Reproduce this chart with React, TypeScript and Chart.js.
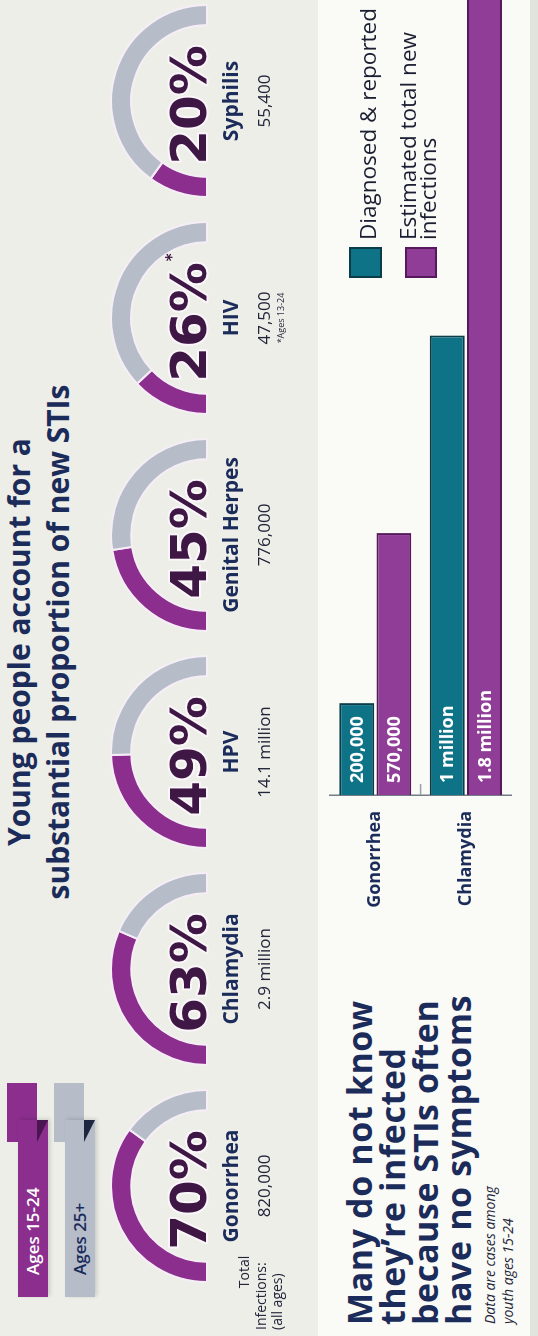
import React, { useEffect, useRef } from "react";
import { Chart, registerables } from "chart.js";

Chart.register(...registerables);

// ---------------- data ----------------
const stiNames = ["Gonorrhea", "Chlamydia", "HPV", "Genital Herpes", "HIV", "Syphilis"];
const youthShare = [70, 63, 49, 45, 26, 20];
const olderShare = [30, 37, 51, 55, 74, 80];
const totalInfections = ["820,000", "2.9 million", "14.1 million", "776,000", "47,500", "55,400"];
const gaugeNotes = ["", "", "", "", "*Ages 13-24", ""];
const percentMarks = ["", "", "", "", "*", ""];
const ageGroups = ["Ages 15-24", "Ages 25+"];

const barCategories = ["Gonorrhea", "Chlamydia"];
const diagnosedReported = [200000, 1000000];
const estimatedNew = [570000, 1800000];
const diagnosedLabels = ["200,000", "1 million"];
const estimatedLabels = ["570,000", "1.8 million"];
const seriesNames = ["Diagnosed & reported", "Estimated total new", "infections"];

const titleLines = ["Young people account for a", "substantial proportion of new STIs"];
const subtitleLines = ["Many do not know", "they\u2019re infected", "because STIs often", "have no symptoms"];
const noteLines = ["Data are cases among", "youth ages 15-24"];

// ---------------- style ----------------
const BG = "#eeeee8";
const PANEL = "#fafaf6";
const NAVY = "#1b2b5a";
const PCT = "#3e1744";
const PURPLE = "#8b2e8e";
const GRAY = "#b6bdc9";
const TEAL = "#0e7387";
const TEAL_DARK = "#0b3d49";
const PURPLE_BAR = "#8f3d97";
const PURPLE_DARK = "#55195c";
const SANS = '"Open Sans", "Noto Sans", sans-serif';

const FRAME_W = 1336;
const FRAME_H = 538;
const gaugeCenters = [150, 367, 584, 801, 1018, 1235];

type TProps = {
  x: number;
  y: number;
  size: number;
  weight?: number | string;
  color?: string;
  align?: "left" | "center" | "right";
  italic?: boolean;
  spacing?: number;
  children: React.ReactNode;
};

function T({ x, y, size, weight = 400, color = NAVY, align = "left", italic = false, spacing = 0, children }: TProps) {
  const style: React.CSSProperties = {
    position: "absolute",
    top: y - 0.888 * size,
    fontSize: size,
    lineHeight: `${size}px`,
    fontWeight: weight as any,
    color,
    fontFamily: SANS,
    fontStyle: italic ? "italic" : "normal",
    whiteSpace: "nowrap",
    letterSpacing: spacing,
  };
  if (align === "left") style.left = x;
  else if (align === "center") {
    style.left = x - 600;
    style.width = 1200;
    style.textAlign = "center";
  } else {
    style.left = x - 1200;
    style.width = 1200;
    style.textAlign = "right";
  }
  return <div style={style}>{children}</div>;
}

function Gauge({ index }: { index: number }) {
  const ref = useRef<HTMLCanvasElement>(null);
  useEffect(() => {
    const textPlugin = {
      id: "gaugeText" + index,
      afterDraw(chart: any) {
        const arc = chart.getDatasetMeta(0).data[0] as any;
        const cx = arc.x;
        const cy = arc.y;
        const ctx = chart.ctx as CanvasRenderingContext2D;
        ctx.save();
        ctx.textBaseline = "alphabetic";
        ctx.textAlign = "left";
        ctx.font = 'bold 50px "DejaVu Sans"';
        const txt = `${youthShare[index]}%`;
        const w = ctx.measureText(txt).width;
        const sx = cx - w / 2 - 4;
        ctx.lineJoin = "round";
        ctx.lineWidth = 4;
        ctx.strokeStyle = "rgba(250,246,250,0.95)";
        ctx.strokeText(txt, sx, cy - 1);
        ctx.fillStyle = PCT;
        ctx.fillText(txt, sx, cy - 1);
        if (percentMarks[index]) {
          ctx.font = 'bold 15px "DejaVu Sans"';
          ctx.fillText(percentMarks[index], sx + w + 1, cy - 30);
        }
        ctx.textAlign = "center";
        ctx.fillStyle = NAVY;
        ctx.font = 'bold 21px "Open Sans"';
        ctx.fillText(stiNames[index], cx, cy + 31);
        ctx.fillStyle = "#23253a";
        ctx.font = '17px "Open Sans"';
        ctx.fillText(totalInfections[index], cx, cy + 63);
        if (gaugeNotes[index]) {
          ctx.font = '9px "Open Sans"';
          ctx.fillText(gaugeNotes[index], cx, cy + 77);
        }
        ctx.restore();
      },
    };
    const chart = new Chart(ref.current as HTMLCanvasElement, {
      type: "doughnut",
      data: {
        labels: ageGroups,
        datasets: [
          {
            data: [youthShare[index], olderShare[index]],
            backgroundColor: [PURPLE, GRAY],
            borderColor: "#f6eef6",
            borderWidth: 2,
          },
        ],
      },
      options: {
        responsive: false,
        animation: false,
        rotation: -90,
        circumference: 180,
        cutout: "79%",
        radius: 96,
        layout: { padding: { left: 9, right: 9, top: 4, bottom: 80 } },
        plugins: { legend: { display: false }, tooltip: { enabled: false } },
      } as any,
      plugins: [textPlugin],
    });
    return () => chart.destroy();
  }, [index]);
  return (
    <canvas
      ref={ref}
      width={210}
      height={180}
      style={{ position: "absolute", left: gaugeCenters[index] - 105, top: 107, width: 210, height: 180 }}
    />
  );
}

function Bars() {
  const ref = useRef<HTMLCanvasElement>(null);
  useEffect(() => {
    const labelPlugin = {
      id: "barValueLabels",
      afterDatasetsDraw(chart: any) {
        const ctx = chart.ctx as CanvasRenderingContext2D;
        ctx.save();
        // small separator tick between the two categories
        const ys = chart.scales.y;
        const mid = (ys.getPixelForValue(0) + ys.getPixelForValue(1)) / 2;
        ctx.strokeStyle = "#9aa0a8";
        ctx.lineWidth = 1.5;
        ctx.beginPath();
        ctx.moveTo(chart.chartArea.left, mid);
        ctx.lineTo(chart.chartArea.left + 11, mid);
        ctx.stroke();

        ctx.font = 'bold 18px "Open Sans"';
        ctx.fillStyle = "#ffffff";
        ctx.textBaseline = "middle";
        ctx.textAlign = "left";
        const sets = [diagnosedLabels, estimatedLabels];
        sets.forEach((labels, di) => {
          chart.getDatasetMeta(di).data.forEach((bar: any, i: number) => {
            ctx.fillText(labels[i], bar.base + 12, bar.y + 1);
          });
        });
        ctx.restore();
      },
    };
    const chart = new Chart(ref.current as HTMLCanvasElement, {
      type: "bar",
      data: {
        labels: barCategories,
        datasets: [
          {
            label: seriesNames[0],
            data: diagnosedReported,
            backgroundColor: TEAL,
            borderColor: TEAL_DARK,
            borderWidth: 2,
            borderSkipped: "start",
            categoryPercentage: 0.82,
            barPercentage: 0.94,
          },
          {
            label: seriesNames[1] + " " + seriesNames[2],
            data: estimatedNew,
            backgroundColor: PURPLE_BAR,
            borderColor: PURPLE_DARK,
            borderWidth: 2,
            borderSkipped: "start",
            categoryPercentage: 0.82,
            barPercentage: 0.94,
          },
        ],
      },
      options: {
        indexAxis: "y",
        responsive: false,
        animation: false,
        layout: { padding: { top: 30, bottom: 1, left: 0, right: 0 } },
        scales: {
          x: { display: false, min: 0, max: 1730000 },
          y: {
            afterFit: (s: any) => {
              s.width = 541;
            },
            grid: { display: false, drawTicks: false },
            border: { display: true, color: "#747c88", width: 1.5 },
            ticks: { color: NAVY, font: { family: "Open Sans", weight: "bold", size: 18 }, padding: 16 },
          },
        },
        plugins: { legend: { display: false }, tooltip: { enabled: false } },
      } as any,
      plugins: [labelPlugin],
    });
    return () => chart.destroy();
  }, []);
  return (
    <canvas
      ref={ref}
      width={FRAME_W}
      height={238}
      style={{ position: "absolute", left: 0, top: 300, width: FRAME_W, height: 238 }}
    />
  );
}

function Ribbon({ top, color, fold, text, textColor }: { top: number; color: string; fold: string; text: string; textColor: string }) {
  return (
    <>
      <div style={{ position: "absolute", left: 194, top: top - 11, width: 59, height: 30, background: color }} />
      <div style={{ position: "absolute", left: 39, top, width: 177, height: 30, background: color, boxShadow: "1px 2px 4px rgba(0,0,0,0.15)" }} />
      <div
        style={{
          position: "absolute",
          left: 194,
          top: top + 19,
          width: 22,
          height: 11,
          background: fold,
          clipPath: "polygon(0 0, 100% 0, 100% 100%)",
        }}
      />
      <T x={61} y={top + 21} size={17} color={textColor} weight={600}>
        {text}
      </T>
    </>
  );
}

export default function App() {
  return (
    <div style={{ position: "absolute", left: 0, top: 0, width: 538, height: 1336, overflow: "hidden", background: BG }}>
      <div
        style={{
          position: "absolute",
          left: 0,
          top: 0,
          width: FRAME_W,
          height: FRAME_H,
          transformOrigin: "0 0",
          transform: `translateY(${FRAME_W}px) rotate(-90deg)`,
          background: BG,
          overflow: "hidden",
        }}
      >
        <div style={{ position: "absolute", left: 0, top: 318, width: FRAME_W, height: 212, background: PANEL }} />
        <div style={{ position: "absolute", left: 0, top: 530, width: FRAME_W, height: 8, background: "#e1e4dd" }} />

        <T x={694} y={31} size={30} weight={700} align="center">
          {titleLines[0]}
        </T>
        <T x={694} y={70} size={30} weight={700} align="center">
          {titleLines[1]}
        </T>

        <Ribbon top={18} color={PURPLE} fold="#4a1550" text={ageGroups[0]} textColor="#ffffff" />
        <Ribbon top={65} color={GRAY} fold="#1d2840" text={ageGroups[1]} textColor={NAVY} />

        {stiNames.map((_, i) => (
          <Gauge key={i} index={i} />
        ))}

        <T x={64} y={249} size={14} color="#23253a" align="center">
          Total
        </T>
        <T x={6} y={266} size={14} color="#23253a">
          Infections:
        </T>
        <T x={6} y={282} size={14} color="#23253a">
          (all ages)
        </T>

        {subtitleLines.map((line, i) => (
          <T key={i} x={11} y={372 + i * 33} size={34} weight={700} spacing={0.6}>
            {line}
          </T>
        ))}
        {noteLines.map((line, i) => (
          <T key={i} x={12} y={495 + i * 18} size={14} italic color="#23253a">
            {line}
          </T>
        ))}

        <Bars />

        <div style={{ position: "absolute", left: 1058, top: 349, width: 27, height: 29, background: TEAL, border: `2px solid ${TEAL_DARK}` }} />
        <div style={{ position: "absolute", left: 1058, top: 405, width: 27, height: 28, background: PURPLE_BAR, border: `2px solid ${PURPLE_DARK}` }} />
        <T x={1096} y={377} size={22.5} color="#1c1f33">
          {seriesNames[0]}
        </T>
        <T x={1096} y={417} size={22.5} color="#1c1f33">
          {seriesNames[1]}
        </T>
        <T x={1096} y={437} size={22.5} color="#1c1f33">
          {seriesNames[2]}
        </T>
      </div>
    </div>
  );
}
